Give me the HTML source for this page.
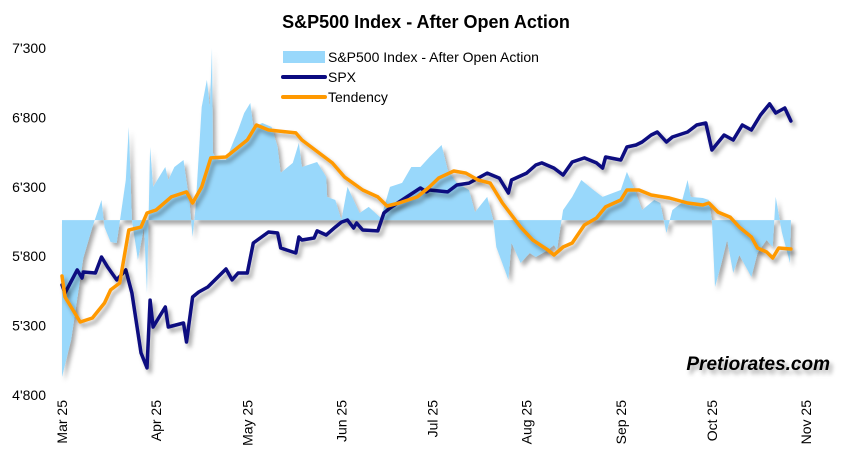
<!DOCTYPE html>
<html><head><meta charset="utf-8"><style>
html,body{margin:0;padding:0;background:#fff;}
svg{display:block;font-family:"Liberation Sans",Arial,sans-serif;}
</style></head><body>
<svg id="chart" width="853" height="460" viewBox="0 0 853 460">
<defs>
<filter id="sh" x="-10%" y="-10%" width="120%" height="130%">
<feDropShadow dx="3" dy="4" stdDeviation="2" flood-color="#000" flood-opacity="0.35"/>
</filter>
</defs>
<text x="426" y="28" text-anchor="middle" font-size="18" font-weight="bold" fill="#000">S&amp;P500 Index - After Open Action</text>
<g id="yaxis"></g>
<g id="xaxis"></g>
<g id="plot"></g>
<g>
<rect x="283" y="51" width="42" height="12" fill="#99d8fb"/>
<text x="328" y="62" font-size="14" fill="#000">S&amp;P500 Index - After Open Action</text>
<line x1="283" y1="77" x2="325" y2="77" stroke="#0a0a80" stroke-width="4" stroke-linecap="round"/>
<text x="328" y="82" font-size="14" fill="#000">SPX</text>
<line x1="283" y1="97" x2="325" y2="97" stroke="#ff9900" stroke-width="4" stroke-linecap="round"/>
<text x="328" y="102" font-size="14" fill="#000">Tendency</text>
</g>
<text x="830" y="370" text-anchor="end" font-size="19" font-weight="bold" font-style="italic" fill="#000" filter="url(#sh)">Pretiorates.com</text>
</svg>
<script>
const yTicks = [4800, 5300, 5800, 6300, 6800, 7300];
const yTickLabels = ["4'800", "5'300", "5'800", "6'300", "6'800", "7'300"];
const xTickDays = [0, 31, 61, 92, 122, 153, 184, 214, 245];
const xTickLabels = ["Mar 25", "Apr 25", "May 25", "Jun 25", "Jul 25", "Aug 25", "Sep 25", "Oct 25", "Nov 25"];
const baseline = 6060;
const spxDays = [0,1,5,6.6,7,11,13,15,18,21,23,26,28,29,30,34,35,40,41,43,45,48,54,56,58,61,63,68,71,72,77,78,79,83,84,87,90,92,94,96,97,99,104,106,108,112,118,120,121,127,130,134,140,144,147,148,153,156,158,162,165,168,172,176,178,179,184,186,189,191,194,196,199,201,206,209,212,214,218,221,224,227,230,233,235,238,240];
const spxValues = [5593,5535,5701,5643,5686,5679,5794,5722,5629,5701,5535,5103,4995,5484,5290,5434,5290,5319,5182,5506,5542,5578,5708,5629,5679,5679,5895,5974,5967,5859,5823,5938,5917,5931,5982,5953,6010,6046,6061,6003,6039,5989,5982,6111,6147,6205,6291,6263,6277,6263,6313,6327,6399,6363,6255,6349,6399,6457,6472,6435,6385,6479,6508,6472,6435,6515,6493,6587,6601,6623,6673,6695,6623,6659,6695,6745,6760,6565,6673,6637,6745,6709,6817,6897,6832,6868,6774];
const tenDays = [0,1,6,10,14,16,19,22,26,28,31,36,41,43,46,49,54,61,64,68,77,79,89,93,99,104,107,111,117,121,124,129,133,137,141,145,151,155,160,162,165,168,172,176,179,184,186,190,194,200,206,211,213,216,220,223,227,229,232,234,236,240];
const tenValues = [5657,5506,5326,5355,5463,5557,5607,5989,6010,6111,6133,6227,6263,6183,6299,6508,6515,6637,6745,6709,6688,6637,6472,6371,6277,6227,6162,6183,6227,6299,6363,6414,6399,6349,6327,6183,6010,5917,5845,5809,5866,5895,6025,6075,6155,6205,6277,6277,6241,6219,6183,6169,6183,6118,6082,6010,5938,5859,5830,5787,5859,5852];
const areaDays = [0,0.01,3,7,10,13,14,16,18,21,22,23,25,27,28,29,30,32,34,35,37,40,42,43,44,46,47.7,48.7,49.4,49.7,51,54,58,60,62,63,66,69,71,72,76,78,79,84,87,87.3,90,92,94,98,101,105,108,112,115,118,121,125,127,130,134,136,140,142,143,147,148,151,154,156,160,162,163,165,168,171,175,178,184,186,189,191,195,197,199,201,204,206,207,211,213,214,215,217,219,221,223,227,229,232,234,235,237,239.7,240];
const areaValues = [6060,4930,5196,5787,6010,6205,6010,5902,5895,6349,6731,6061,5773,6010,5535,6587,6299,6371,6443,6349,6443,6493,6183,5938,6155,6875,7070,6875,7300,6544,6493,6493,6709,6832,6904,6731,6760,6731,6587,6400,6472,6616,6443,6479,6371,6227,6205,6061,6299,6111,6155,6075,6299,6328,6443,6443,6515,6601,6421,6328,6277,6118,6227,6061,5866,5629,5895,5751,5823,5794,5845,5881,5845,6133,6227,6349,6277,6227,6277,6407,6255,6133,6205,6183,5967,6133,6183,6349,6227,6219,6205,6061,5578,5737,5917,5679,5809,5650,5823,5917,5866,6227,5974,5751,6061];

const NS = "http://www.w3.org/2000/svg";
const X0 = 62, PXD = 3.037;
function xS(d){ return X0 + d * PXD; }
function yS(v){ return 48 + (7300 - v) * 347 / 2500; }
function mk(tag, attrs, parent){
  const e = document.createElementNS(NS, tag);
  for (const k in attrs) e.setAttribute(k, attrs[k]);
  parent.appendChild(e);
  return e;
}
const yAx = document.getElementById('yaxis');
yTicks.forEach((v, i) => {
  const t = mk('text', {x: 46, y: yS(v) + 5, 'text-anchor': 'end', 'font-size': 14, fill: '#000'}, yAx);
  
  
  t.textContent = yTickLabels[i];
});
const xAx = document.getElementById('xaxis');
xTickDays.forEach((d, i) => {
  const x = xS(d) + 5;
  const t = mk('text', {x: x, y: 400, 'text-anchor': 'end', 'font-size': 14, fill: '#000', transform: 'rotate(-90 ' + x + ' 400)'}, xAx);
  
  
  t.textContent = xTickLabels[i];
});
const plot = document.getElementById('plot');
let ap = 'M' + xS(areaDays[0]) + ',' + yS(baseline);
areaDays.forEach((d, i) => { ap += ' L' + xS(d).toFixed(1) + ',' + yS(areaValues[i]).toFixed(1); });
ap += ' L' + xS(areaDays[areaDays.length - 1]).toFixed(1) + ',' + yS(baseline) + ' Z';
const area = mk('path', {d: ap, fill: '#99d8fb', filter: 'url(#sh)'}, plot);


function line(days, vals, color){
  return mk('path', {d: days.map((d, i) => (i ? 'L' : 'M') + xS(d).toFixed(1) + ',' + yS(vals[i]).toFixed(1)).join(' '),
    fill: 'none', stroke: color, 'stroke-width': 3.5, 'stroke-linejoin': 'round', 'stroke-linecap': 'round', filter: 'url(#sh)'}, plot);
}
const spx = line(spxDays, spxValues, '#0a0a80');


const ten = line(tenDays, tenValues, '#ff9900');


</script>
</body></html>
